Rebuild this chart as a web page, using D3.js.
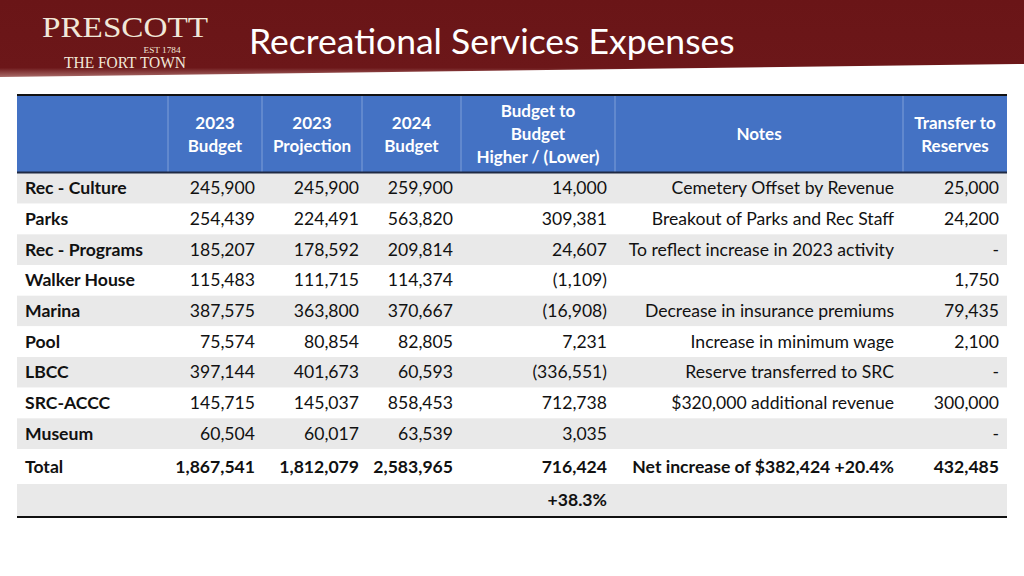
<!DOCTYPE html>
<html><head><meta charset="utf-8">
<script src="https://cdn.jsdelivr.net/npm/d3@7"></script>
<style>body{margin:0;background:#fff}svg{display:block}</style>
</head><body><svg id="c" width="1024" height="576"></svg>
<script>
const title = "Recreational Services Expenses";
const headers = [[""],["2023","Budget"],["2023","Projection"],["2024","Budget"],["Budget to","Budget","Higher / (Lower)"],["Notes"],["Transfer to","Reserves"]];
const categories = ["Rec - Culture","Parks","Rec - Programs","Walker House","Marina","Pool","LBCC","SRC-ACCC","Museum"];
const budget2023 = [245900,254439,185207,115483,387575,75574,397144,145715,60504];
const projection2023 = [245900,224491,178592,111715,363800,80854,401673,145037,60017];
const budget2024 = [259900,563820,209814,114374,370667,82805,60593,858453,63539];
const diffBudget = [14000,309381,24607,-1109,-16908,7231,-336551,712738,3035];
const notes = ["Cemetery Offset by Revenue","Breakout of Parks and Rec Staff","To reflect increase in 2023 activity","","Decrease in insurance premiums","Increase in minimum wage","Reserve transferred to SRC","$320,000 additional revenue",""];
const transfer = [25000,24200,0,1750,79435,2100,0,300000,0];
const totalLabel = "Total";
const totals = [1867541,1812079,2583965,716424];
const totalNote = "Net increase of $382,424 +20.4%";
const totalTransfer = 432485;
const pctLabel = "+38.3%";

const svg = d3.select("#c");
const FONT = "Lato, 'Open Sans', sans-serif";
const fmt = d3.format(",");
const fmtNeg = v => v < 0 ? "(" + fmt(-v) + ")" : fmt(v);
const fmtDash = v => v === 0 ? "-" : fmt(v);

// banner
const defs = svg.append("defs");
const g1 = defs.append("linearGradient").attr("id","bn").attr("x1",0).attr("y1",0).attr("x2",0).attr("y2",1);
g1.append("stop").attr("offset","0").attr("stop-color","#6a1517");
g1.append("stop").attr("offset","0.88").attr("stop-color","#6c1719");
g1.append("stop").attr("offset","1").attr("stop-color","#a86a68");
svg.append("path").attr("d","M0,0H1024V64L0,77Z").attr("fill","url(#bn)");

// logo
const logo = svg.append("g").attr("fill","#f1e8d8").attr("font-family","'Liberation Serif','DejaVu Serif',serif");
logo.append("text").attr("x",125).attr("y",37).attr("text-anchor","middle").attr("font-size",30).attr("textLength",166).attr("lengthAdjust","spacingAndGlyphs").text("PRESCOTT");
logo.append("text").attr("x",162).attr("y",53).attr("text-anchor","middle").attr("font-size",9).attr("textLength",37).attr("lengthAdjust","spacingAndGlyphs").text("EST 1784");
logo.append("text").attr("x",125).attr("y",68).attr("text-anchor","middle").attr("font-size",16).attr("textLength",122).attr("lengthAdjust","spacingAndGlyphs").text("THE FORT TOWN");

svg.append("text").attr("x",249).attr("y",54).attr("fill","#fff").attr("font-family",FONT).attr("font-size",35.5).text(title);

// table geometry
const colEdges = [17,168,262,362,461,615,903,1007];
const left = 17, right = 1007;
const headTop = 96, headBot = 172;
const y = d3.scaleBand().domain(categories).range([173, 449]).paddingInner(0);
const totalY = [449, 484], pctY = [484, 516];

// header
svg.append("rect").attr("x",left).attr("y",headTop).attr("width",right-left).attr("height",headBot-headTop).attr("fill","#4472c4");
svg.selectAll(".hsep").data(colEdges.slice(1,-1)).join("line")
  .attr("x1",d=>d).attr("x2",d=>d).attr("y1",headTop).attr("y2",headBot)
  .attr("stroke","#7f9fd8").attr("stroke-width",1);
const hg = svg.selectAll(".hd").data(headers).join("text")
  .attr("fill","#fff").attr("font-family",FONT).attr("font-weight","bold").attr("font-size",17)
  .attr("text-anchor","middle")
  .attr("x",(d,i)=>(colEdges[i]+colEdges[i+1])/2);
hg.each(function(d){
  const t = d3.select(this), lh = 23, y0 = (headTop+headBot)/2 - (d.length-1)*lh/2 + 6;
  d.forEach((s,k)=>t.append("tspan").attr("x",t.attr("x")).attr("y",y0+k*lh).text(s));
});

// body rows
const rows = categories.map((c,i)=>({c,i,vals:[budget2023[i],projection2023[i],budget2024[i],diffBudget[i]],note:notes[i],tr:transfer[i]}));
svg.selectAll(".rowbg").data(rows).join("rect")
  .attr("x",left).attr("width",right-left)
  .attr("y",d=>y(d.c)).attr("height",y.bandwidth())
  .attr("fill",d=>d.i%2===0?"#e9e9e9":"#ffffff");
svg.append("rect").attr("x",left).attr("width",right-left).attr("y",pctY[0]).attr("height",pctY[1]-pctY[0]).attr("fill","#e9e9e9");

const rightX = [255,359,453,607];
const txt = (sel) => sel.attr("font-family",FONT).attr("font-size",17.6).attr("fill","#111");
const rg = svg.selectAll(".row").data(rows).join("g").attr("transform",d=>`translate(0,${y(d.c)+y.bandwidth()/2+6})`);
txt(rg.append("text").attr("x",25).attr("font-weight","bold").text(d=>d.c));
rightX.forEach((x,k)=>{
  txt(rg.append("text").attr("x",x).attr("text-anchor","end").text(d=>k===3?fmtNeg(d.vals[k]):fmt(d.vals[k])));
});
txt(rg.append("text").attr("x",894).attr("text-anchor","end").text(d=>d.note));
txt(rg.append("text").attr("x",999).attr("text-anchor","end").text(d=>fmtDash(d.tr)));

// totals
const tg = svg.append("g").attr("transform",`translate(0,${(totalY[0]+totalY[1])/2+6})`).attr("font-weight","bold");
txt(tg.append("text").attr("x",25).text(totalLabel));
totals.forEach((v,k)=>txt(tg.append("text").attr("x",rightX[k]).attr("text-anchor","end").text(fmt(v))));
txt(tg.append("text").attr("x",894).attr("text-anchor","end").text(totalNote));
txt(tg.append("text").attr("x",999).attr("text-anchor","end").text(fmt(totalTransfer)));
txt(svg.append("text").attr("x",607).attr("y",(pctY[0]+pctY[1])/2+6).attr("text-anchor","end").attr("font-weight","bold").text(pctLabel));

// borders
svg.append("line").attr("x1",left).attr("x2",right).attr("y1",95).attr("y2",95).attr("stroke","#111").attr("stroke-width",2);
svg.append("line").attr("x1",left).attr("x2",right).attr("y1",172.5).attr("y2",172.5).attr("stroke","#1f2a44").attr("stroke-width",2);
svg.append("line").attr("x1",left).attr("x2",right).attr("y1",517).attr("y2",517).attr("stroke","#111").attr("stroke-width",2);
</script></body></html>
